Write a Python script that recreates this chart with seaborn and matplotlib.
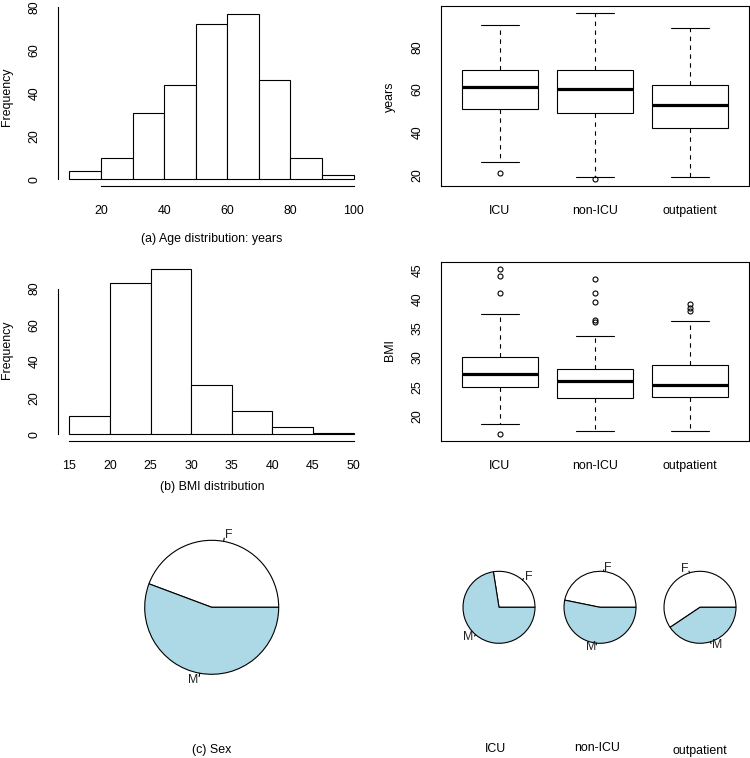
import numpy as np
import pandas as pd
import matplotlib
matplotlib.use("Agg")
import matplotlib.pyplot as plt
import seaborn as sns

# ---------------- data ----------------
age_bin_edges = [10, 20, 30, 40, 50, 60, 70, 80, 90, 100]
age_counts = [4, 10, 31, 44, 72, 77, 46, 10, 2]
age_xticks = [20, 40, 60, 80, 100]
age_yticks = [0, 20, 40, 60, 80]

bmi_bin_edges = [15, 20, 25, 30, 35, 40, 45, 50]
bmi_counts = [10, 83, 91, 27, 13, 4, 1]
bmi_xticks = [15, 20, 25, 30, 35, 40, 45, 50]
bmi_yticks = [0, 20, 40, 60, 80]

groups = ["ICU", "non-ICU", "outpatient"]
age_whislo = [26, 19, 19]
age_q1 = [51, 49, 42]
age_med = [61, 60.5, 53]
age_q3 = [69, 69, 62]
age_whishi = [90, 96, 89]
age_fliers = [[21], [18], []]
age_box_yticks = [20, 40, 60, 80]

bmi_whislo = [18.6, 17.4, 17.4]
bmi_q1 = [25.0, 23.0, 23.3]
bmi_med = [27.2, 26.0, 25.3]
bmi_q3 = [30.1, 28.0, 28.7]
bmi_whishi = [37.5, 33.8, 36.3]
bmi_fliers = [[45.3, 44.0, 41.1, 16.8], [43.6, 41.1, 39.6, 36.4, 36.1], [39.2, 38.6, 38.0]]
bmi_box_yticks = [20, 25, 30, 35, 40, 45]

sex_labels = ["F", "M"]
sex_overall = [44.3, 55.7]
sex_by_group = [[27.5, 72.5], [46.8, 53.2], [59.4, 40.6]]
sex_colors = ["white", "#ADD8E6"]

# ---------------- style ----------------
sns.set_style("white", rc={"axes.edgecolor": "black", "text.color": "black",
                           "xtick.color": "black", "ytick.color": "black",
                           "axes.labelcolor": "black"})
plt.rcParams["font.family"] = ["Liberation Sans", "DejaVu Sans"]
FS = 8.9
plt.rcParams["font.size"] = FS
LW = 0.8
TICKLEN = 5.0

W, H = 750, 758
fig = plt.figure(figsize=(7.5, 7.58), dpi=100)
fig.patch.set_facecolor("white")


def px_axes(x0, y0, x1, y1):
    return fig.add_axes([x0 / W, 1 - y1 / H, (x1 - x0) / W, (y1 - y0) / H])


def ftext(x, y, s, rot=0):
    fig.text(x / W, 1 - y / H, s, ha="center", va="center", rotation=rot, fontsize=FS)


def r_range(lo, hi):
    d = 0.04 * (hi - lo)
    return lo - d, hi + d


def style_ticks(ax):
    ax.tick_params(axis="x", length=TICKLEN, width=LW, pad=8.5, labelsize=FS)
    ax.tick_params(axis="y", length=TICKLEN, width=LW, pad=7.4, labelsize=FS)
    for lab in ax.get_yticklabels():
        lab.set_rotation(90)
        lab.set_va("center")
        lab.set_ha("right")


def draw_hist(ax, edges, counts, xticks, yticks):
    centers = [(a + b) / 2 for a, b in zip(edges[:-1], edges[1:])]
    df = pd.DataFrame({"x": centers, "n": counts})
    sns.histplot(data=df, x="x", weights="n", bins=edges, ax=ax, color="white",
                 edgecolor="black", linewidth=LW, alpha=1, stat="count")
    ax.set_xlim(*r_range(edges[0], edges[-1]))
    ax.set_ylim(*r_range(0, max(counts)))
    for s in ["top", "right"]:
        ax.spines[s].set_visible(False)
    ax.spines["left"].set_bounds(yticks[0], yticks[-1])
    ax.spines["bottom"].set_bounds(xticks[0], xticks[-1])
    for s in ["left", "bottom"]:
        ax.spines[s].set_linewidth(LW)
    ax.set_xticks(xticks)
    ax.set_yticks(yticks)
    ax.set_xlabel("")
    ax.set_ylabel("")
    style_ticks(ax)


def draw_box(ax, wlo, q1, med, q3, whi, fliers, yticks):
    stats = []
    for i, g in enumerate(groups):
        stats.append(dict(label=g, whislo=wlo[i], q1=q1[i], med=med[i], q3=q3[i],
                          whishi=whi[i], fliers=fliers[i]))
    ax.bxp(stats, positions=[1, 2, 3], widths=0.8, patch_artist=True, capwidths=0.4,
           boxprops=dict(facecolor="white", edgecolor="black", linewidth=LW),
           medianprops=dict(color="black", linewidth=2.3, solid_capstyle="butt"),
           whiskerprops=dict(color="black", linestyle=(0, (4, 4)), linewidth=LW),
           capprops=dict(color="black", linewidth=LW),
           flierprops=dict(marker="o", markerfacecolor="none", markeredgecolor="black",
                           markersize=3.6, markeredgewidth=0.8))
    allv = wlo + whi + [v for f in fliers for v in f]
    ax.set_xlim(*r_range(0.5, 3.5))
    ax.set_ylim(*r_range(min(allv), max(allv)))
    ax.set_yticks(yticks)
    for s in ax.spines.values():
        s.set_visible(True)
        s.set_linewidth(LW)
    style_ticks(ax)


def draw_pie(cx, cy, r, values):
    ax = px_axes(cx - 1.6 * r, cy - 1.6 * r, cx + 1.6 * r, cy + 1.6 * r)
    wedges, _ = ax.pie(values, colors=sex_colors, startangle=0, counterclock=True,
                       radius=1, wedgeprops=dict(edgecolor="black", linewidth=LW))
    ax.set_xlim(-1.6, 1.6)
    ax.set_ylim(-1.6, 1.6)
    ax.axis("off")
    for w, lab in zip(wedges, sex_labels):
        mid = np.deg2rad((w.theta1 + w.theta2) / 2)
        x, y = np.cos(mid), np.sin(mid)
        ax.plot([x, 1.05 * x], [y, 1.05 * y], color="black", linewidth=LW)
        ax.text(1.1 * x, 1.1 * y, lab, ha="left" if x >= 0 else "right",
                va="center", fontsize=FS, color="#222222")


# ---------------- panels ----------------
ax1 = px_axes(58, 7, 365, 186)
draw_hist(ax1, age_bin_edges, age_counts, age_xticks, age_yticks)
ftext(7, 97, "Frequency", rot=90)
ftext(212, 239, "(a) Age distribution: years")

ax2 = px_axes(441, 6, 749, 186)
draw_box(ax2, age_whislo, age_q1, age_med, age_q3, age_whishi, age_fliers, age_box_yticks)
ftext(390, 97, "years", rot=90)

ax3 = px_axes(58, 262, 365, 441)
draw_hist(ax3, bmi_bin_edges, bmi_counts, bmi_xticks, bmi_yticks)
ftext(7, 350, "Frequency", rot=90)
ftext(212, 487, "(b) BMI distribution")

ax4 = px_axes(441, 262, 749, 441)
draw_box(ax4, bmi_whislo, bmi_q1, bmi_med, bmi_q3, bmi_whishi, bmi_fliers, bmi_box_yticks)
ftext(390, 350, "BMI", rot=90)

draw_pie(211.7, 607.3, 67, sex_overall)
ftext(212, 750, "(c) Sex")

pie_centers_x = [499, 600, 700]
title_x = [496, 597, 700]
title_y = [749, 748, 751]
for i, g in enumerate(groups):
    draw_pie(pie_centers_x[i], 607.3, 36, sex_by_group[i])
    ftext(title_x[i], title_y[i], g)

fig.savefig("out.png", dpi=100, facecolor="white")
